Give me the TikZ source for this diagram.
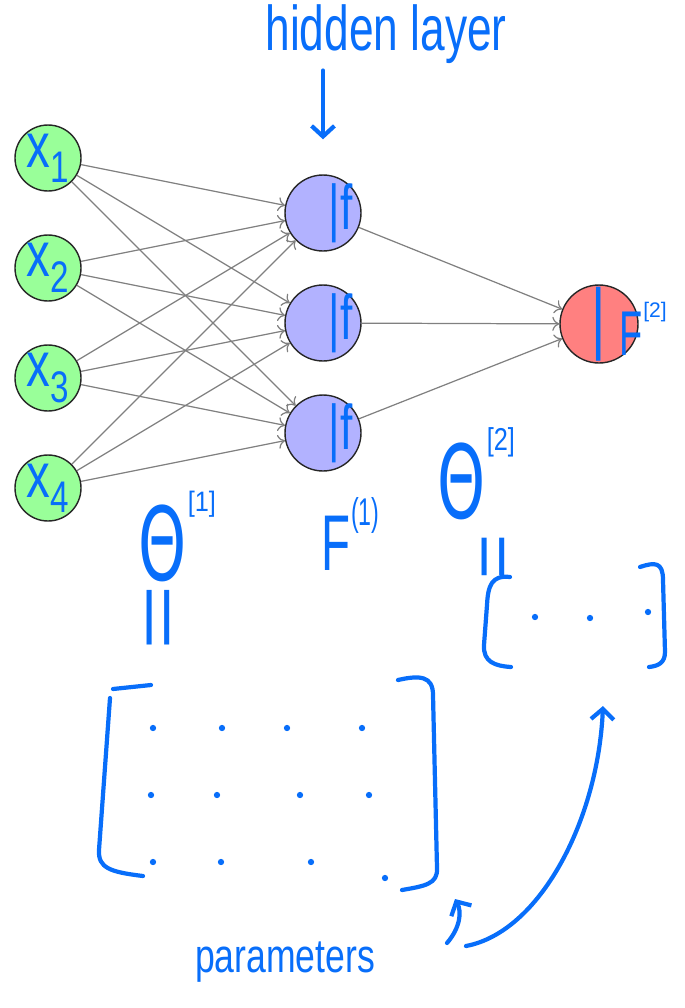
\documentclass[tikz,border=0pt]{standalone}
\usepackage{fontspec}
\setmainfont{Liberation Sans}
\newfontfamily\thetafont{DejaVu Sans}
\usepackage{graphicx}
\usepackage{xcolor}
\usepackage{tikz}
\usetikzlibrary{arrows,arrows.meta}
\definecolor{penblue}{RGB}{8,110,250}
\newcommand{\scrawl}[2][0.7]{\scalebox{#1}[1]{#2}}
\tikzset{
    neuron/.style={draw=black!85, circle, line width=0.8pt, inner sep=0pt, text=penblue},
    input neuron/.style={neuron, fill=green!40, minimum size=1.32cm, font=\fontsize{36}{36}\selectfont},
    hidden neuron/.style={neuron, fill=blue!30, minimum size=1.52cm},
    output neuron/.style={neuron, fill=red!50, minimum size=1.56cm, font=\fontsize{45}{45}\selectfont},
    edge/.style={draw=black!50, line width=0.7pt, -{Computer Modern Rightarrow[length=4pt,width=8pt]}},
    pen/.style={draw=penblue, line width=2.4pt, line cap=round, line join=round},
    pen arrow/.style={pen, -{Straight Barb[length=6pt,width=13pt]}},
    hand/.style={text=penblue, inner sep=0pt, font=\fontsize{#1}{#1}\selectfont}, hand/.default=36,
    sup/.style={hand=#1, anchor=west}}

\begin{document}
\begin{tikzpicture}[x=0.02cm, y=-0.02cm]
\useasboundingbox (0,0) rectangle (685,1008);

%neurons
\foreach \i/\y in {1/158,2/268,3/378,4/488}
    \node[input neuron] (x\i) at (48,\y) {\scrawl[0.75]{x\textsubscript{\i}}};
\foreach \j/\y in {1/213,2/323,3/433}
    \node[hidden neuron, label={[hand=36, xshift=10pt]center:\scrawl{|f}}] (h\j) at (323,\y) {};
\node[output neuron] (o) at (599,324) {\scrawl{|}};
\node[hand=36, label={[sup=12]north east:[2]}] (F2) at (631,334) {\scrawl[0.6]{F}};

%weights
\foreach \i in {1,...,4}
    \foreach \j in {1,2,3}
        \draw[edge] (x\i) -- (h\j);
\foreach \j in {1,2,3}
    \draw[edge] (h\j) -- (o);

\node[hand=36, anchor=base] (hidden) at (386,50) {\scrawl{hidden layer}};
\draw[pen arrow, shorten <=4pt, shorten >=0.7cm] (hidden.south -| h1) -- (h1);

\node[hand=58, label={[sup=16]north east:\scrawl[0.9]{[1]}}] (theta1) at (163,543) {\scrawl[0.6]{\thetafont Θ}};
\node[hand=45, label={[sup=22]north east:\scrawl[0.6]{(1)}}] (F1) at (336,543) {\scrawl[0.6]{F}};
\node[hand=58, label={[sup=18]north east:\scrawl[0.8]{[2]}}] (theta2) at (462,481) {\scrawl[0.6]{\thetafont Θ}};
\node[hand=40, rotate=90] (eq1) at (164,618) {\scrawl[1.6]{=}};
\node[hand=40, rotate=90] (eq2) at (499,557) {\scrawl[1.1]{=}};

%first weight matrix
\draw[pen] (113,689) -- (151,685);
\draw[pen] (110,698) -- (99,850) .. controls (98,868) and (110,872) .. (143,876);
\draw[pen] (398,680) .. controls (420,675) and (433,676) .. (433,695) -- (437,868) .. controls (438,884) and (425,886) .. (402,890);
\foreach \x/\y in {153/728,222/728,287/728,362/728,
                   151/795,217/795,300/795,369/795,
                   153/862,221/862,311/862,385/878}
    \fill[penblue] (\x,\y) circle[radius=1.8pt];

%second weight matrix
\draw[pen] (510,577) .. controls (492,575) and (488,585) .. (487,605) -- (484,645) .. controls (483,662) and (495,666) .. (511,667);
\draw[pen] (640,567) .. controls (655,562) and (663,562) .. (663,580) -- (665,652) .. controls (665,663) and (658,666) .. (649,667);
\foreach \x/\y in {535/617,590/618,648/612}
    \fill[penblue] (\x,\y) circle[radius=1.8pt];

\node[hand=27, anchor=base] (params) at (285,972) {\scrawl[0.75]{parameters}};
\coordinate (tailA) at (447,943);
\coordinate (tipA) at (455,899);
\coordinate (tailB) at (466,946);
\coordinate (tipB) at (603,706);
\draw[pen arrow] (tailA) .. controls (460,928) and (462,912) .. (tipA);
\draw[pen arrow] (tailB) .. controls (540,932) and (598,820) .. (tipB);

\end{tikzpicture}
\end{document}
